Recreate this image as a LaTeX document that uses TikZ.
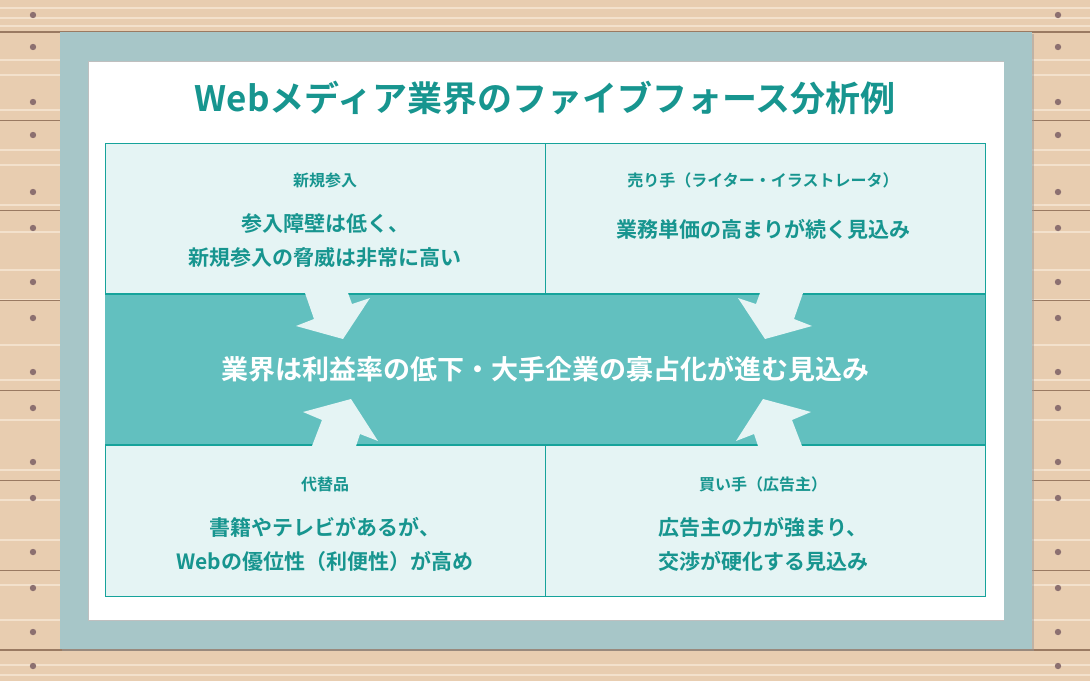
\documentclass[tikz,border=0pt]{standalone}
\usepackage{fontspec}
\newfontfamily\jp{Noto Sans CJK JP}[BoldFont={Noto Sans CJK JP Bold}]
\definecolor{wood}{HTML}{E8CDB0}
\definecolor{woodl}{HTML}{F3E1CC}
\definecolor{woodline}{HTML}{9A7A62}
\definecolor{screw}{HTML}{8C7070}
\definecolor{frame}{HTML}{A7C6C8}
\definecolor{teal}{HTML}{16A39B}
\definecolor{titlec}{HTML}{17958F}
\definecolor{pale}{HTML}{E5F4F4}
\definecolor{band}{HTML}{62C0BF}
\begin{document}
\begin{tikzpicture}[x=1pt,y=-1pt,
  head/.style={font=\jp\bfseries\fontsize{16}{18}\selectfont,text=titlec,align=center},
  body/.style={font=\jp\bfseries\fontsize{21}{34}\selectfont,text=titlec,align=center},
  arr/.style={fill=pale,draw=none}]
\useasboundingbox (0,0) rectangle (1090,681);
\fill[wood] (0,0) rectangle (1090,681);
\foreach \y in {8,18,26,60,75,110,150,165,205,232,270,300,345,380,420,470,500,540,585,620,665,675}{
  \draw[woodl,line width=1.5pt] (0,\y) -- (1090,\y);}
\draw[woodline,line width=1.2pt] (0,32) -- (1090,32);
\draw[woodline,line width=1.2pt] (0,650) -- (1090,650);
\foreach \y in {120,210,300,390,480,570}{
  \draw[woodline,line width=1pt] (0,\y) -- (60,\y);
  \draw[woodline,line width=1pt] (1032,\y) -- (1090,\y);}
\foreach \y in {15,47,102,135,192,228,282,318,372,408,462,498,552,588,632,666}{
  \fill[screw] (33,\y) circle (3.2);
  \fill[screw] (1058,\y) circle (3.2);}
\fill[black!40,opacity=.5] (62,34) rectangle (1034,651);
\fill[frame] (60,32) rectangle (1032,649);
\fill[black!25] (88,61) rectangle (1004,621);
\fill[white] (89,62) rectangle (1004,620);
\node[font=\jp\bfseries\fontsize{35}{40}\selectfont,text=titlec] (title) at (545,98) {Webメディア業界のファイブフォース分析例};
\draw[teal,fill=pale,line width=1pt] (105,143) rectangle (985,596);
\draw[teal,line width=1pt] (545,143) -- (545,596);
\fill[band] (105,294) rectangle (985,445);
\draw[teal,line width=1.2pt] (105,294) -- (985,294);
\draw[teal,line width=1.2pt] (105,445) -- (985,445);
% arrows
\fill[arr] (305,293) -- (348,293) -- (352,304) -- (370,298) -- (343,339) -- (296,326) -- (314,319) -- cycle;
\fill[arr] (803,293) -- (760,293) -- (756,304) -- (738,298) -- (765,339) -- (812,326) -- (794,319) -- cycle;
\fill[arr] (312,446) -- (356,446) -- (360,434) -- (378,441) -- (351,399) -- (303,412) -- (322,420) -- cycle;
\fill[arr] (802,446) -- (758,446) -- (754,434) -- (736,441) -- (763,399) -- (811,412) -- (792,420) -- cycle;
\node[font=\jp\bfseries\fontsize{27}{30}\selectfont,text=white] (center) at (545,369) {業界は利益率の低下・大手企業の寡占化が進む見込み};
\node[head] (h1) at (325,180) {新規参入};
\node[body] (b1) at (325,241) {参入障壁は低く、\\新規参入の脅威は非常に高い};
\node[head] (h2) at (763,180) {売り手（ライター・イラストレータ）};
\node[body] (b2) at (763,229) {業務単価の高まりが続く見込み};
\node[head] (h3) at (325,484) {代替品};
\node[body] (b3) at (325,544) {書籍やテレビがあるが、\\Webの優位性（利便性）が高め};
\node[head] (h4) at (763,484) {買い手（広告主）};
\node[body] (b4) at (763,544) {広告主の力が強まり、\\交渉が硬化する見込み};
\end{tikzpicture}
\end{document}
